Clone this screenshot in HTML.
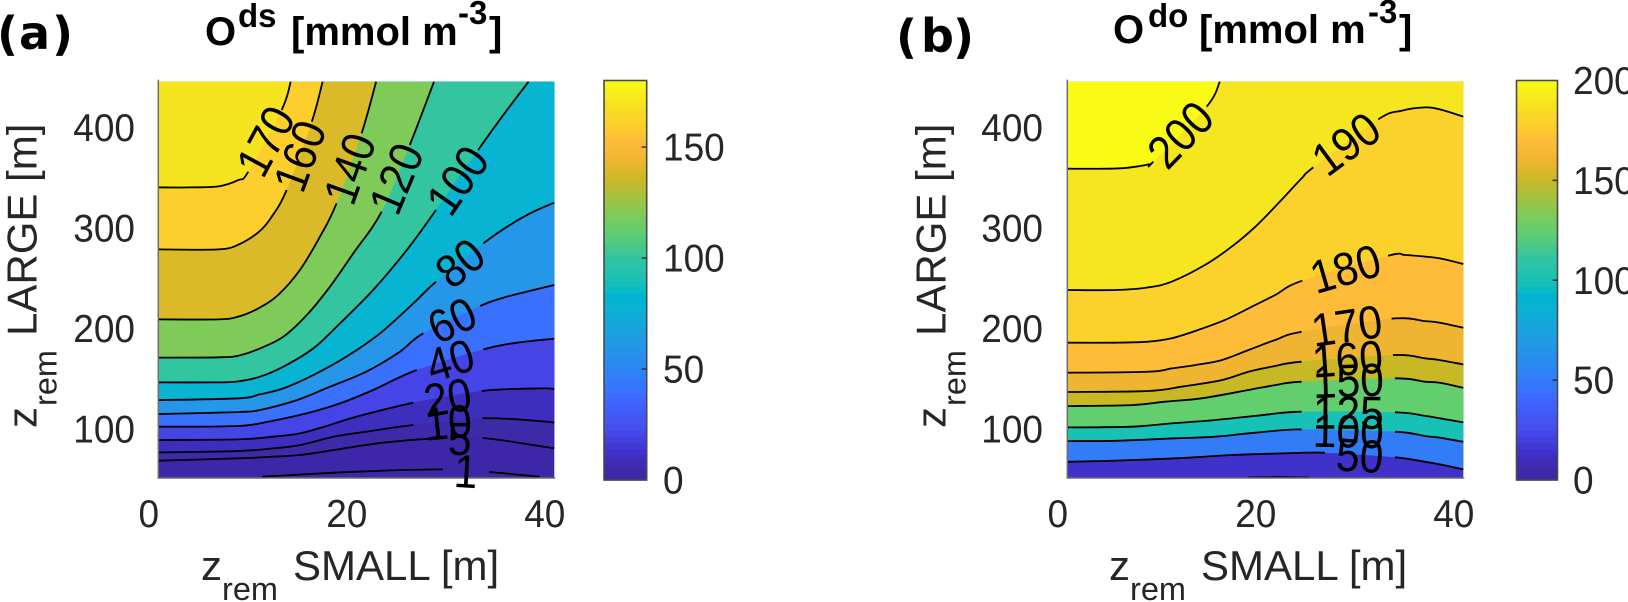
<!DOCTYPE html>
<html lang="en">
<head>
<meta charset="utf-8">
<title>Oxygen contour maps</title>
<style>
html,body{margin:0;padding:0;background:#fff;width:1628px;height:602px;overflow:hidden}
svg{display:block}
text{font-family:"Liberation Sans",sans-serif;fill:#262626}
.big{font-size:42px}
.sub{font-size:32.5px}
.tick{font-size:37px}
.ttl{font-size:40px;font-weight:bold;fill:#000}
.ttls{font-size:33px;font-weight:bold;fill:#000}
.tag{font-family:"DejaVu Sans",sans-serif;font-size:46px;font-weight:bold;fill:#000}
</style>
</head>
<body>
<svg id="fig" xmlns="http://www.w3.org/2000/svg" width="1628" height="602" viewBox="0 0 1628 602">
  <g>
    <text class="tag" x="-3" y="50">(</text><text class="tag" x="19" y="49">a</text><text class="tag" x="52" y="50">)</text>
  </g>
  <g>
    <text class="ttl" x="205" y="45">O</text><text class="ttls" x="238" y="27">ds</text><text class="ttl" x="291" y="45">[mmol m</text><text class="ttls" x="458" y="24">-3</text><text class="ttl" x="489" y="45">]</text>
  </g>
  <g>
    <text class="tag" x="896" y="53">(</text><text class="tag" x="921" y="52">b</text><text class="tag" x="953" y="53">)</text>
  </g>
  <g>
    <text class="ttl" x="1113" y="43">O</text><text class="ttls" x="1148" y="27">do</text><text class="ttl" x="1199" y="43">[mmol m</text><text class="ttls" x="1368" y="23">-3</text><text class="ttl" x="1399" y="43">]</text>
  </g>
  <g>
    <text class="big" x="201" y="580">z</text><text class="sub" x="222" y="600">rem</text><text class="big" x="293" y="580">SMALL [m]</text>
  </g>
  <g>
    <text class="big" x="1109" y="580">z</text><text class="sub" x="1130" y="600">rem</text><text class="big" x="1201" y="580">SMALL [m]</text>
  </g>
  <g>
    <text class="big" transform="translate(36.5,428) rotate(-90)">z</text><text class="sub" transform="translate(56.5,406) rotate(-90)">rem</text><text class="big" transform="translate(36.5,336) rotate(-90)">LARGE [m]</text>
  </g>
  <g>
    <text class="big" transform="translate(945.5,428) rotate(-90)">z</text><text class="sub" transform="translate(965.5,406) rotate(-90)">rem</text><text class="big" transform="translate(945.5,336) rotate(-90)">LARGE [m]</text>
  </g>
</svg>
<script>
// ---- shared axis data ----
const xTicks = [0, 20, 40];
const yTicks = [100, 200, 300, 400];
const xDomain = [0, 40];
const yDomain = [51.3, 445.6];
const colorPositions = [0, .03, .07, .11, .14, .205, .22, .26, .333, .444, .46, .5, .556, .625, .667, .75, .778, .8, .85, .89, .9, .95, 1];
const colorValues = ['#3d26a8','#3d2aa8','#3f31c9','#4543e6','#4652f0','#3f66ff','#3b6fff','#2f80f5','#2596e8','#07b4d2','#00b5d0','#17c1b5','#33c4a0','#62ce6e','#7fcb5a','#c8b826','#dbba29','#efb432','#febc38','#fcd02c','#fbd22c','#f5e61f','#f9fb15'];

// ---- panel (a): contour levels and traced contours, [small m, large m]; null marks the label gap ----
const levelsA = [1, 5, 10, 20, 40, 60, 80, 100, 120, 140, 160, 170];
const barTicksA = [0, 50, 100, 150];
const barMaxA = 180;
const baseValueA = 1;
const lineA1 = [[10.5,52.5],[20,57.5],[28.75,59.8],null,[33.4,57.2],[38.5,52.5]];
const lineA5 = [[0,68.5],[8.08,70.8],[11.6,72.4],[14.3,74.1],[17.7,79],[22.7,86.4],[28.1,90.7],null,[32.76,91],[38.55,83],[40,80.7]];
const lineA10 = [[0,76.7],[8.08,78.1],[11.6,80.7],[14.3,84],[17.7,92.3],[21,97.3],[25.76,104],null,[32.76,110.6],[38.55,107.9],[40,106.3]];
const lineA20 = [[0,89],[8.08,89.7],[11.6,92.3],[14.3,95.6],[17,103],[20,112.2],[25.76,126.2],null,[32.66,137.8],[38.55,140.4],[40,139.8]];
const lineA40 = [[0,102.3],[8.08,103],[11.6,108.3],[15,115.6],[18.35,125.5],[21.7,138.8],[26.1,158.7],null,[32.83,179.2],[36.2,185.9],[40,189.9]];
const lineA60 = [[0,114.9],[8.08,116.9],[10.27,118.9],[14,128.8],[17.34,142.1],[21,157],[24.4,176.9],[26.77,195.2],null,[32.5,222.4],[35.2,231.6],[37.9,238.3],[40,243.3]];
const lineA80 = [[0,128.8],[8.08,130.5],[10.27,134.5],[12.63,140.4],[15.66,153.7],[19,172],[22.4,195.2],[25.76,225],[28.05,246.6],null,[32.83,284.7],[35.5,303],[37.9,316.2],[40,325.2]];
const lineA100 = [[0,146.4],[6.06,146.4],[8.08,147.4],[10.27,152],[12.63,162],[15.66,180.2],[18.35,205.1],[21.7,238.3],[25.1,278.1],[28.05,317.9],null,[32.3,377.6],[34.85,412.4],[37.4,445.6]];
const lineA120 = [[0,171],[6.06,171.3],[8.08,172.9],[10.27,180.2],[12.63,191.8],[15,213.4],[17.34,241.6],[19.7,274.8],[22.56,316.2],null,[25.4,382.6],[27.85,445.6]];
const lineA140 = [[0,209.1],[6.06,209.1],[8.08,211.8],[10.1,220],[12.1,233.3],[14.3,258.2],[16.33,291.4],[18,324.5],null,[20.54,394.2],[22,445.6]];
const lineA160 = [[0,278.7],[6.06,278.7],[8.08,283.4],[10.1,295.7],[11.45,311.2],[12.96,337.8],null,[15.5,405.8],[16.6,445.6]];
const lineA170 = [[0,340.4],[3.2,340.4],[6.06,341.4],[8.08,347.7],[9.09,356],null,[12.46,417.4],[13.37,445.6]];
const linesA = [lineA1, lineA5, lineA10, lineA20, lineA40, lineA60, lineA80, lineA100, lineA120, lineA140, lineA160, lineA170];

// ---- panel (b) ----
const levelsB = [1, 50, 100, 125, 150, 160, 170, 180, 190, 200];
const barTicksB = [0, 50, 100, 150, 200];
const barMaxB = 200;
const baseValueB = 14;
const lineB1 = [[18.2,51.6],[21,52],[24.4,51.6]];
const lineB50 = [[0,67.4],[4.8,68.5],[10.88,70.8],[16.6,74.1],[21.65,75.7],[26,76.4],null,[33.1,71.8],[36.13,67.4],[37.64,64.8],[40,59.8]];
const lineB100 = [[0,88],[4.8,88.3],[10.88,90.7],[14.9,92.3],[19,96.3],[23.67,99.6],null,[33.1,97.3],[36.13,93],[37.64,91.3],[40,87.3]];
const lineB125 = [[0,101.6],[6.5,102.3],[10.54,105.6],[14.9,108.9],[19,113],[23.67,117.2],null,[33.1,116.6],[36.13,113],[37.64,110.6],[40,106.6]];
const lineB150 = [[0,122.8],[6.5,123.8],[9.87,127.2],[13.57,130.5],[18.3,138.8],[21,143.7],[23.67,147.1],null,[33.1,150.4],[36.13,147.1],[37.64,146],[40,141]];
const lineB160 = [[0,136.8],[8.18,137.8],[11.55,142.1],[15.6,148.7],[18.3,157],[21,162.7],[23.67,167],null,[32.9,173.6],[36.13,170.3],[37.64,168.6],[40,164.3]];
const lineB170 = [[0,156],[8.18,157],[10.54,160.3],[12.9,163.6],[15.6,168.6],[18.3,178.6],[21,188.6],[23.67,196.8],null,[32.76,209.8],[36.13,207.4],[37.64,205.8],[40,200.8]];
const lineB180 = [[0,185.9],[4.8,185.9],[8.18,186.9],[10.54,190.2],[13.2,198.5],[15.9,208.4],[18.3,220],[21,233.3],[23.74,247.6],null,[32.4,272.4],[34.1,273.1],[36.13,271.5],[37.64,269.8],[40,264.2]];
const lineB190 = [[0,238.3],[4.8,238.3],[8.18,240.9],[10.54,246.6],[13.9,263.2],[16.6,281.4],[19,301.3],[21.3,324.5],[23.67,349.4],[24.85,360.3],null,[31.4,408.1],[33.77,416.7],[36.13,420],[37.64,418],[40,410.8]];
const lineB200 = [[0,359],[4.14,359],[6.16,360],[8.18,363.3],[8.69,366],null,[14.07,420.7],[15.4,445.6]];
const linesB = [lineB1, lineB50, lineB100, lineB125, lineB150, lineB160, lineB170, lineB180, lineB190, lineB200];

const NS = 'http://www.w3.org/2000/svg';
const fig = document.getElementById('fig');

function make(tag, parent) {
  const el = document.createElementNS(NS, tag);
  parent.appendChild(el);
  return el;
}
function hexRgb(h) {
  return [parseInt(h.slice(1,3),16), parseInt(h.slice(3,5),16), parseInt(h.slice(5,7),16)];
}
function cmap(f) {
  f = Math.max(0, Math.min(1, f));
  for (let i = 1; i < colorPositions.length; i++) {
    if (f <= colorPositions[i]) {
      const t = (f - colorPositions[i-1]) / (colorPositions[i] - colorPositions[i-1]);
      const a = hexRgb(colorValues[i-1]);
      const b = hexRgb(colorValues[i]);
      return 'rgb(' + a.map((v, k) => Math.round(v + (b[k] - v) * t)).join(',') + ')';
    }
  }
  return colorValues[colorValues.length - 1];
}
function fmt(p) {
  return p[0].toFixed(1) + ' ' + p[1].toFixed(1);
}
// Catmull-Rom curve pieces between successive pixel points
function curvePieces(p) {
  const out = [];
  for (let i = 0; i < p.length - 1; i++) {
    const a = p[Math.max(i - 1, 0)], b = p[i], c = p[i + 1], d = p[Math.min(i + 2, p.length - 1)];
    const c1 = [b[0] + (c[0] - a[0]) / 6, b[1] + (c[1] - a[1]) / 6];
    const c2 = [c[0] - (d[0] - b[0]) / 6, c[1] - (d[1] - b[1]) / 6];
    out.push('C' + fmt(c1) + ' ' + fmt(c2) + ' ' + fmt(c));
  }
  return out;
}

function drawPanel(prefix, left, levels, lines, baseValue, barMax, barTicks, barLeft, barRight, barLabelX, tickRight) {
  const xs = v => left + (v - xDomain[0]) * 9.9;
  const ys = v => 429 - (v - 100) * 1.005;
  const root = make('g', fig);
  
  

  // base fill
  const base = make('rect', root);
  
  
  base.setAttribute('x', xs(xDomain[0]));
  base.setAttribute('y', ys(yDomain[1]));
  base.setAttribute('width', xs(xDomain[1]) - xs(xDomain[0]));
  base.setAttribute('height', ys(yDomain[0]) - ys(yDomain[1]));
  base.setAttribute('fill', cmap(baseValue / barMax));

  // filled bands, low to high
  levels.forEach((lev, i) => {
    if (lev <= baseValue) return;
    const pts = lines[i].filter(p => p);
    const px = pts.map(p => [xs(p[0]), ys(p[1])]);
    let d = 'M' + fmt(px[0]) + curvePieces(px).join('');
    if (pts[pts.length - 1][0] >= xDomain[1]) d += 'L' + fmt([xs(xDomain[1]), ys(yDomain[1])]);
    d += 'L' + fmt([xs(xDomain[0]), ys(yDomain[1])]) + 'Z';
    const band = make('path', root);
    
    
    band.setAttribute('d', d);
    band.setAttribute('fill', cmap(lev / barMax));
  });

  // contour strokes, split at the label gap
  levels.forEach((lev, i) => {
    const gap = lines[i].indexOf(null);
    const px = lines[i].filter(p => p).map(p => [xs(p[0]), ys(p[1])]);
    const pieces = curvePieces(px);
    let d = 'M' + fmt(px[0]);
    pieces.forEach((c, k) => {
      if (gap >= 0 && k === gap - 1) {
        d += 'M' + fmt(px[k + 1]);
      } else {
        d += c;
      }
    });
    const line = make('path', root);
    
    
    line.setAttribute('d', d);
    line.setAttribute('fill', 'none');
    line.setAttribute('stroke', '#000');
    line.setAttribute('stroke-width', '1.8');
  });

  // axis spines
  const spine = make('path', root);
  
  
  spine.setAttribute('d', 'M' + xs(xDomain[0]) + ' ' + (ys(yDomain[1]) - 2) + 'V' + ys(yDomain[0]) + 'H' + (xs(xDomain[1]) + 1));
  spine.setAttribute('fill', 'none');
  spine.setAttribute('stroke', '#6e6e6e');
  spine.setAttribute('stroke-width', '1.5');

  // contour labels, centred in the gap
  levels.forEach((lev, i) => {
    const g = lines[i].indexOf(null);
    if (g < 0) return;
    const a = lines[i][g - 1];
    const b = lines[i][g + 1];
    const ax = xs(a[0]), ay = ys(a[1]), bx = xs(b[0]), by = ys(b[1]);
    const ang = Math.atan2(by - ay, bx - ax) * 180 / Math.PI;
    const label = make('text', root);
    
    
    label.setAttribute('transform', 'translate(' + ((ax + bx) / 2).toFixed(1) + ',' + ((ay + by) / 2).toFixed(1) + ') rotate(' + ang.toFixed(1) + ') scale(1,1.1)');
    label.setAttribute('text-anchor', 'middle');
    label.setAttribute('dy', '.36em');
    label.setAttribute('style', 'font-size:42.5px;fill:#000');
    label.textContent = lev;
  });

  // tick labels
  xTicks.forEach(t => {
    const tick = make('text', root);
    
    
    tick.setAttribute('class', 'tick');
    tick.setAttribute('transform', 'translate(' + (xs(t) - 9.5) + ',527) scale(1,1.05)');
    tick.setAttribute('text-anchor', 'middle');
    tick.textContent = t;
  });
  yTicks.forEach(t => {
    const tick = make('text', root);
    
    
    tick.setAttribute('class', 'tick');
    tick.setAttribute('transform', 'translate(' + tickRight + ',' + (ys(t) + 13.5) + ') scale(1,1.05)');
    tick.setAttribute('text-anchor', 'end');
    tick.textContent = t;
  });

  // colorbar
  const barTop = 80.5, barBottom = 480;
  const bs = v => barBottom - v / barMax * (barBottom - barTop);
  const bar = make('g', fig);
  
  
  const steps = 64;
  for (let s = 0; s < steps; s++) {
    const seg = make('rect', bar);
    
    
    const lo = s / steps * barMax;
    const hi = (s + 1) / steps * barMax;
    seg.setAttribute('x', barLeft);
    seg.setAttribute('y', bs(hi));
    seg.setAttribute('width', barRight - barLeft);
    seg.setAttribute('height', bs(lo) - bs(hi) + .6);
    seg.setAttribute('fill', cmap((s + .5) / steps));
  }
  const frame = make('rect', bar);
  
  
  frame.setAttribute('x', barLeft);
  frame.setAttribute('y', barTop);
  frame.setAttribute('width', barRight - barLeft);
  frame.setAttribute('height', barBottom - barTop);
  frame.setAttribute('fill', 'none');
  frame.setAttribute('stroke', '#4a4a4a');
  frame.setAttribute('stroke-width', '1.6');
  barTicks.forEach(t => {
    if (t > 0 && t < barMax) {
      const mark = make('path', bar);
      
      
      mark.setAttribute('d', 'M' + (barRight - 5) + ' ' + bs(t) + 'H' + barRight);
      mark.setAttribute('stroke', '#333');
      mark.setAttribute('stroke-width', '1.5');
    }
    const txt = make('text', bar);
    
    
    txt.setAttribute('class', 'tick');
    txt.setAttribute('transform', 'translate(' + barLabelX + ',' + (bs(t) + 13.5) + ') scale(1,1.05)');
    txt.textContent = t;
  });
}

drawPanel('panel-a', 158.3, levelsA, linesA, baseValueA, barMaxA, barTicksA, 604, 646.7, 663, 135);
drawPanel('panel-b', 1067.3, levelsB, linesB, baseValueB, barMaxB, barTicksB, 1516.5, 1557.5, 1573, 1043);
</script>
</body>
</html>
